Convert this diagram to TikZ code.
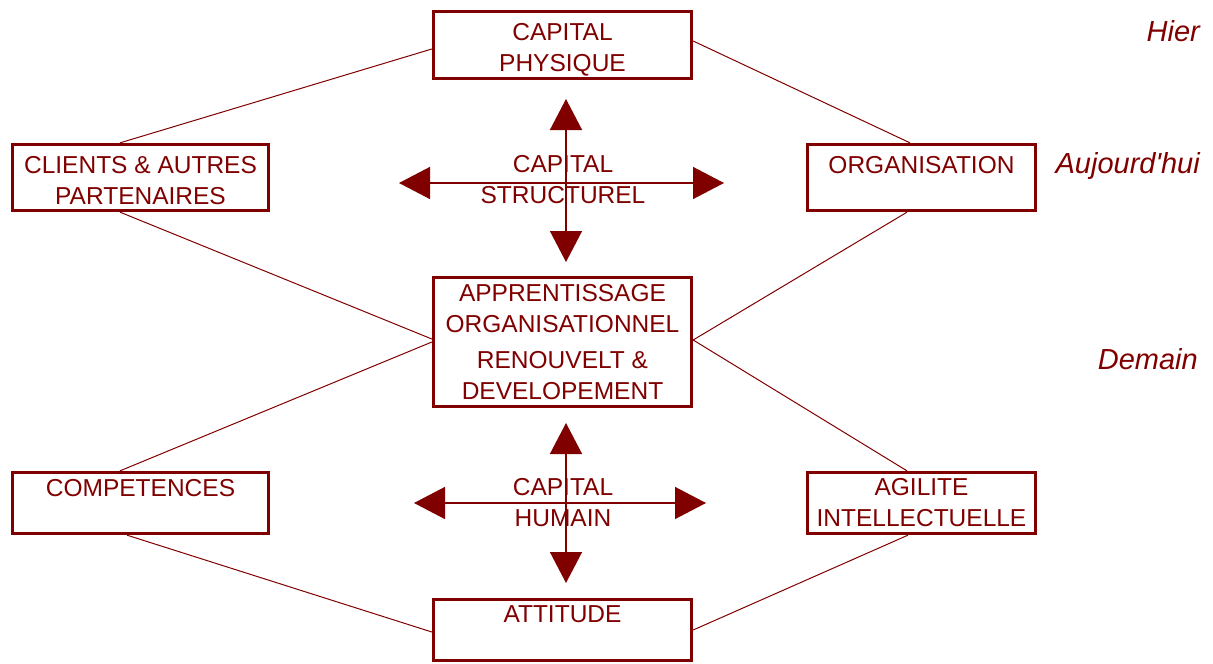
\documentclass[tikz,border=0pt]{standalone}
\usepackage{fontspec}
\setmainfont{Liberation Sans}
\usetikzlibrary{arrows.meta}
\definecolor{maroon}{HTML}{800000}
\tikzset{
  boxnode/.style={draw=maroon, line width=3.3pt, text=maroon, align=center,
    inner sep=0pt, font=\fontsize{24.5}{31}\selectfont},
  link/.style={draw=maroon, line width=1pt},
  cross/.style={draw=maroon, line width=1.4pt,
    {Triangle[length=31pt,width=32pt]}-{Triangle[length=31pt,width=32pt]}},
  crosslabel/.style={text=maroon, align=center, inner sep=0pt, font=\fontsize{24.5}{31}\selectfont},
  timelabel/.style={text=maroon, anchor=base east, inner sep=0pt, font=\fontsize{29}{34}\selectfont\itshape}
}
\begin{document}
\begin{tikzpicture}[x=1pt,y=-1pt]
\useasboundingbox (0,0) rectangle (1213,664);
% boxes
\node[boxnode, minimum width=258pt, minimum height=67pt] (phys) at (562.5,45) {\rule{0pt}{27.5pt}CAPITAL\\PHYSIQUE};
\node[boxnode, minimum width=256pt, minimum height=66pt] (clients) at (140.5,177.5) {\rule{0pt}{23.5pt}CLIENTS \& AUTRES\\PARTENAIRES};
\node[boxnode, minimum width=228pt, minimum height=66pt] (org) at (921.5,177.5) {\rule{0pt}{22pt}ORGANISATION\\\mbox{}};
\node[boxnode, minimum width=258pt, minimum height=129pt] (center) at (562.5,342) {APPRENTISSAGE\\ORGANISATIONNEL\\[5pt]RENOUVELT \&\\DEVELOPEMENT};
\node[boxnode, minimum width=256pt, minimum height=61pt] (comp) at (140.5,503) {COMPETENCES\\\mbox{}};
\node[boxnode, minimum width=228pt, minimum height=61pt] (agil) at (921.5,503) {AGILITE\\INTELLECTUELLE};
\node[boxnode, minimum width=258pt, minimum height=61pt] (att) at (562.5,630) {ATTITUDE\\\mbox{}};
% connectors
\draw[link] ([yshift=-4pt]phys.west) -- ([xshift=-20.5pt]clients.north);
\draw[link] ([yshift=4pt]phys.east) -- ([xshift=-11.5pt]org.north);
\draw[link] ([xshift=-20.5pt]clients.south) -- ([yshift=3pt]center.west);
\draw[link] ([xshift=-14.5pt]org.south) -- ([yshift=2pt]center.east);
\draw[link] (center.west) -- ([xshift=-20.5pt]comp.north);
\draw[link] ([yshift=2pt]center.east) -- ([xshift=-14.5pt]agil.north);
\draw[link] ([xshift=-13.5pt]comp.south) -- ([yshift=-2pt]att.west);
\draw[link] ([xshift=-13.5pt]agil.south) -- (att.east);
% upper cross
\coordinate (st) at (566,99);
\coordinate (sb) at (566,262);
\coordinate (sl) at (399,183);
\coordinate (sr) at (724,183);
\draw[cross] (st) -- (sb);
\draw[cross] (sl) -- (sr);
\node[crosslabel] (struct) at (563,180) {CAPITAL\\STRUCTUREL};
% lower cross
\coordinate (ht) at (566,423);
\coordinate (hb) at (566,583);
\coordinate (hl) at (414,503);
\coordinate (hr) at (706,503);
\draw[cross] (ht) -- (hb);
\draw[cross] (hl) -- (hr);
\node[crosslabel] (human) at (563,503) {CAPITAL\\HUMAIN};
% time labels
\node[timelabel] (hier) at (1200,41) {Hier};
\node[timelabel] (auj) at (1200,173) {Aujourd\textquotesingle hui};
\node[timelabel] (demain) at (1198,369) {Demain};
\end{tikzpicture}
\end{document}
